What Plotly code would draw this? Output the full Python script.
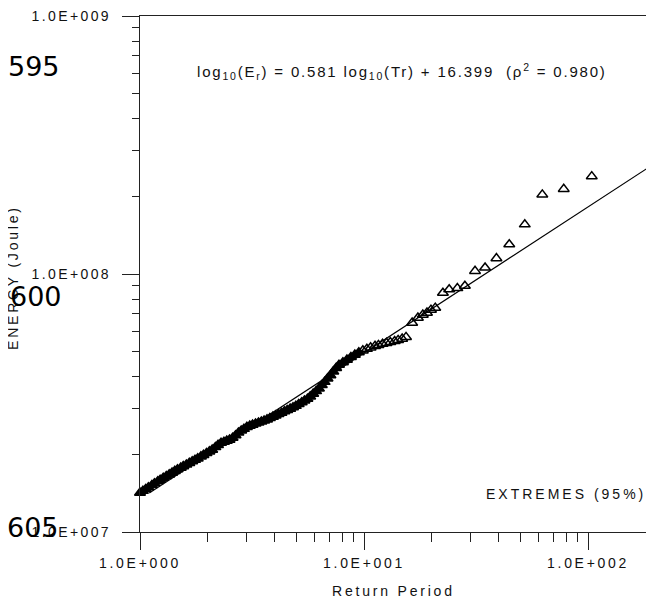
import plotly.graph_objects as go
import math

# ---------------- data ----------------
return_period = [
    1.00, 1.03, 1.06, 1.09, 1.13, 1.16, 1.20, 1.23, 1.27, 1.31,
    1.35, 1.39, 1.43, 1.47, 1.52, 1.56, 1.61, 1.66, 1.71, 1.76,
    1.81, 1.87, 1.92, 1.98, 2.04, 2.10, 2.17, 2.23, 2.30, 2.37,
    2.44, 2.51, 2.59, 2.67, 2.75, 2.83, 2.91, 3.00, 3.09, 3.18,
    3.28, 3.38, 3.48, 3.58, 3.69, 3.80, 3.92, 4.03, 4.15, 4.28,
    4.41, 4.54, 4.68, 4.82, 4.96, 5.11, 5.27, 5.42, 5.59, 5.75,
    5.93, 6.11, 6.29, 6.48, 6.67, 6.87, 7.08, 7.29, 7.51, 7.73,
    8.05, 8.39, 8.74, 9.10, 9.48, 9.88, 10.3, 10.7, 11.2, 11.6,
    12.1, 12.6, 13.1, 13.7, 14.2, 14.8, 15.4,
    16.4, 17.4, 18.3, 19.1, 19.9, 20.8,
    22.5, 24.0, 26.1, 28.2, 31.3, 34.7, 39.0, 44.5, 52.2, 62.5, 77.9, 103.9,
]

energy_joule = [
    1.419e7, 1.442e7, 1.466e7, 1.489e7, 1.519e7, 1.542e7, 1.571e7, 1.592e7, 1.620e7, 1.645e7,
    1.670e7, 1.696e7, 1.722e7, 1.747e7, 1.774e7, 1.797e7, 1.823e7, 1.850e7, 1.877e7, 1.902e7,
    1.927e7, 1.960e7, 1.988e7, 2.020e7, 2.051e7, 2.082e7, 2.131e7, 2.173e7, 2.214e7, 2.234e7,
    2.256e7, 2.276e7, 2.315e7, 2.369e7, 2.425e7, 2.470e7, 2.508e7, 2.551e7, 2.580e7, 2.603e7,
    2.629e7, 2.652e7, 2.676e7, 2.700e7, 2.729e7, 2.763e7, 2.795e7, 2.828e7, 2.861e7, 2.896e7,
    2.933e7, 2.967e7, 3.004e7, 3.041e7, 3.079e7, 3.129e7, 3.179e7, 3.228e7, 3.280e7, 3.351e7,
    3.432e7, 3.513e7, 3.597e7, 3.708e7, 3.815e7, 3.933e7, 4.050e7, 4.185e7, 4.321e7, 4.442e7,
    4.545e7, 4.652e7, 4.761e7, 4.864e7, 4.968e7, 5.049e7, 5.121e7, 5.185e7, 5.255e7, 5.301e7,
    5.358e7, 5.401e7, 5.439e7, 5.488e7, 5.542e7, 5.610e7, 5.691e7,
    6.469e7, 6.764e7, 6.946e7, 7.071e7, 7.261e7, 7.391e7,
    8.446e7, 8.714e7, 8.807e7, 8.989e7, 1.027e8, 1.058e8, 1.150e8, 1.302e8, 1.556e8, 2.031e8, 2.135e8, 2.390e8,
]

# fitted straight line on log-log axes (as drawn)
fit_slope = 0.566
fit_intercept = 7.128
fit_return_period = [1.1, 200.0]

equation_text = "log<sub>10</sub>(E<sub>r</sub>) = 0.581 log<sub>10</sub>(Tr) + 16.399 \u00a0(\u03c1<sup>2</sup> = 0.980)"
label_text = "EXTREMES (95%)"
x_title = "Return Period"
y_title = "ENERGY (Joule)"
line_numbers = ["595", "600", "605"]

x_major = [1, 10, 100]
x_major_labels = ["1.0E+000", "1.0E+001", "1.0E+002"]
y_major = [1e7, 1e8, 1e9]
y_major_labels = ["1.0E+007", "1.0E+008", "1.0E+009"]
x_minor = [2, 3, 4, 5, 6, 7, 8, 9, 20, 30, 40, 50, 60, 70, 80, 90]
y_minor = [2e7, 3e7, 4e7, 5e7, 6e7, 7e7, 8e7, 9e7, 2e8, 3e8, 4e8, 5e8, 6e8, 7e8, 8e8, 9e8]
x_max = 197.0

# ---------------- figure ----------------
OFF = 8                      # page body margin of the browser
PAGE_W, PAGE_H = 654, 606
W, H = PAGE_W - OFF, PAGE_H - 2 * OFF
# plot area in page pixels: x 140..654, y 14..532
ML, MT = 140 - OFF, 14 - OFF
MR = W - (654 - OFF)
MB = H - (532 - OFF)
PW, PH = W - ML - MR, H - MT - MB

FONT = "Liberation Sans, Arial, sans-serif"
AX = "#222222"


def spaced(t, ls):
    return f'<span style="letter-spacing:{ls}px">{t}</span>'


def px(x):  # page pixel -> paper
    return (x - OFF - ML) / PW


def py(y):
    return (H - MB - (y - OFF)) / PH


fit_energy = [10 ** (fit_intercept + fit_slope * math.log10(t)) for t in fit_return_period]

n_dense = 75
symbols = ["triangle-up"] * n_dense + ["triangle-up-open"] * (len(return_period) - n_dense)

fig = go.Figure()
fig.add_trace(go.Scatter(
    x=fit_return_period, y=fit_energy, mode="lines",
    line=dict(color="black", width=1.2),
    xaxis="x2", yaxis="y2", showlegend=False,
))
fig.add_trace(go.Scatter(
    x=return_period, y=energy_joule, mode="markers",
    marker=dict(symbol=symbols, size=9.5, color="black",
                line=dict(width=1.5, color="black")),
    xaxis="x", yaxis="y", showlegend=False, cliponaxis=False,
))

common = dict(type="log", showgrid=False, zeroline=False)
fig.update_layout(
    width=W, height=H,
    margin=dict(l=ML, r=MR, t=MT, b=MB, pad=0),
    paper_bgcolor="white", plot_bgcolor="white",
    font=dict(family=FONT, size=14, color="#111111"),
    xaxis=dict(**common, range=[0, math.log10(x_max)],
               tickvals=x_major, ticktext=[spaced(t, 2.7) for t in x_major_labels],
               ticks="outside", ticklen=17, tickwidth=1.3, tickcolor=AX,
               showline=True, linecolor=AX, linewidth=1.3, mirror=True,
               tickfont=dict(family=FONT, size=14, color="#111111"),
               ticklabelstandoff=1, ticklabeloverflow="allow"),
    yaxis=dict(**common, range=[7, 9],
               tickvals=y_major, ticktext=[spaced(t, 2.4) for t in y_major_labels],
               ticks="outside", ticklen=17, tickwidth=1.3, tickcolor=AX,
               showline=True, linecolor=AX, linewidth=1.3,
               tickfont=dict(family=FONT, size=14, color="#111111"),
               ticklabelstandoff=8, ticklabeloverflow="allow"),
    xaxis2=dict(**common, range=[0, math.log10(x_max)], overlaying="x", anchor="y", side="bottom",
                tickvals=x_minor, showticklabels=False,
                ticks="outside", ticklen=9, tickwidth=1.3, tickcolor=AX, showline=False),
    yaxis2=dict(**common, range=[7, 9], overlaying="y", anchor="x", side="left",
                tickvals=y_minor, showticklabels=False,
                ticks="outside", ticklen=7, tickwidth=1.3, tickcolor=AX, showline=False),
)

ann = [
    dict(text=spaced(equation_text, 1.8), x=px(402), y=py(70), font=dict(size=15)),
    dict(text=spaced(label_text, 3.0), x=px(648), y=py(494), xanchor="right", font=dict(size=14)),
    dict(text=spaced(x_title, 2.8), x=px(393), y=py(591), font=dict(size=14)),
    dict(text=spaced(y_title, 2.8), x=px(13), y=py(277), textangle=-90, font=dict(size=14)),
    dict(text=line_numbers[0], x=px(34), y=py(65), font=dict(family="DejaVu Sans", size=27, color="black")),
    dict(text=line_numbers[1], x=px(36), y=py(296), font=dict(family="DejaVu Sans", size=27, color="black")),
    dict(text=line_numbers[2], x=px(33), y=py(527), font=dict(family="DejaVu Sans", size=27, color="black")),
]
for a in ann:
    a.setdefault("xanchor", "center")
    fig.add_annotation(xref="paper", yref="paper", showarrow=False, yanchor="middle", **a)

fig.write_html("out.html", config={"displayModeBar": False})
